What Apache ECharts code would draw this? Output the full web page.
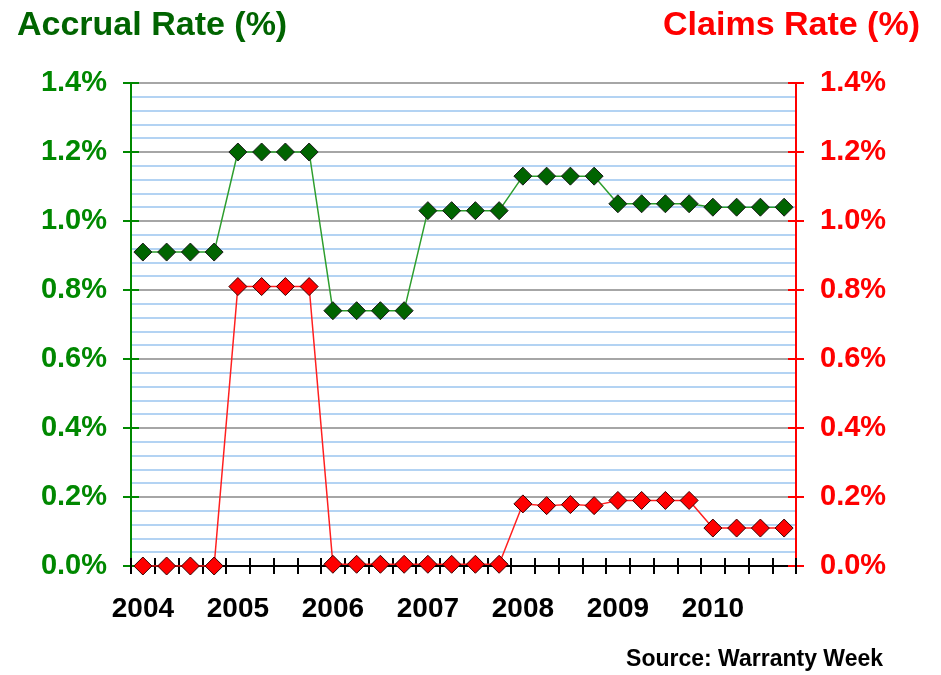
<!DOCTYPE html>
<html>
<head>
<meta charset="utf-8">
<script src="https://cdn.jsdelivr.net/npm/echarts@6/dist/echarts.min.js"></script>
<style>
  html, body { margin: 0; padding: 0; background: #fff; }
  #main { width: 941px; height: 675px; }
</style>
</head>
<body>
<div id="main"></div>
<script>
const years = ['2004', '2005', '2006', '2007', '2008', '2009', '2010'];
const quarters = ['Q1', 'Q2', 'Q3', 'Q4'];
const accrualRate = [
    0.91, 0.91, 0.91, 0.91,
    1.20, 1.20, 1.20, 1.20,
    0.74, 0.74, 0.74, 0.74,
    1.03, 1.03, 1.03, 1.03,
    1.13, 1.13, 1.13, 1.13,
    1.05, 1.05, 1.05, 1.05,
    1.04, 1.04, 1.04, 1.04
];
const claimsRate = [
    0.00, 0.00, 0.00, 0.00,
    0.81, 0.81, 0.81, 0.81,
    0.005, 0.005, 0.005, 0.005,
    0.005, 0.005, 0.005, 0.005,
    0.18, 0.175, 0.178, 0.175,
    0.19, 0.19, 0.19, 0.19,
    0.11, 0.11, 0.11, 0.11
];
const yTicks = [0, 0.2, 0.4, 0.6, 0.8, 1.0, 1.2, 1.4];

const categories = [];
years.forEach(y => quarters.forEach(q => categories.push(y + ' ' + q)));

const chart = echarts.init(document.getElementById('main'));
const FONT = '"Liberation Sans", Arial, sans-serif';
const GREEN = '#008800';
const RED = '#ff0000';

function valueAxis(position, color, withLabels, inside) {
    return {
        type: 'value',
        position: position,
        min: yTicks[0],
        max: yTicks[yTicks.length - 1],
        interval: yTicks[1] - yTicks[0],
        axisLine: { show: withLabels, lineStyle: { color: color, width: 2 } },
        axisTick: { show: true, inside: inside, length: 8, lineStyle: { color: color, width: 2 } },
        axisLabel: {
            show: withLabels,
            color: color,
            fontFamily: FONT,
            fontWeight: 'bold',
            fontSize: 29,
            margin: 24,
            formatter: v => v.toFixed(1) + '%'
        },
        splitLine: { show: false },
        minorTick: { show: false },
        minorSplitLine: { show: false }
    };
}

const leftAxis = valueAxis('left', GREEN, true, false);
leftAxis.splitLine = { show: true, lineStyle: { color: '#a6a6a6', width: 2 } };
leftAxis.minorTick = { show: false, splitNumber: 5 };
leftAxis.minorSplitLine = { show: true, lineStyle: { color: '#b3d3f3', width: 2 } };

const option = {
    backgroundColor: '#ffffff',
    animation: false,
    title: [{
        text: 'Accrual Rate (%)',
        left: 17,
        top: 9,
        padding: 0,
        textStyle: { color: '#006400', fontFamily: FONT, fontWeight: 'bold', fontSize: 34 }
    }, {
        text: 'Claims Rate (%)',
        right: 21,
        top: 9,
        padding: 0,
        textStyle: { color: RED, fontFamily: FONT, fontWeight: 'bold', fontSize: 34 }
    }],
    graphic: [{
        type: 'text',
        right: 58,
        top: 648,
        style: { text: 'Source: Warranty Week', fill: '#000', font: 'bold 23px ' + FONT }
    }],
    grid: { left: 131, right: 145, top: 83, bottom: 109 },
    xAxis: [{
        type: 'category',
        data: categories,
        boundaryGap: true,
        axisLine: { lineStyle: { color: '#000', width: 2 } },
        axisTick: { show: true, interval: 0, length: 8, lineStyle: { color: '#000', width: 2 } },
        axisLabel: {
            interval: 3,
            color: '#000',
            fontFamily: FONT,
            fontWeight: 'bold',
            fontSize: 28,
            margin: 29,
            formatter: v => v.split(' ')[0]
        },
        splitLine: { show: false }
    }, {
        type: 'category',
        data: categories,
        position: 'bottom',
        boundaryGap: true,
        axisLine: { show: false },
        axisTick: { show: true, inside: true, interval: 0, length: 8, lineStyle: { color: '#000', width: 2 } },
        axisLabel: { show: false },
        splitLine: { show: false }
    }],
    yAxis: [
        leftAxis,
        valueAxis('right', RED, true, false),
        valueAxis('left', GREEN, false, true),
        valueAxis('right', RED, false, true)
    ],
    series: [{
        name: 'Accrual Rate (%)',
        type: 'line',
        yAxisIndex: 0,
        data: accrualRate,
        symbol: 'diamond',
        symbolSize: 18,
        showAllSymbol: true,
        lineStyle: { color: '#2e9e2e', width: 1.5 },
        itemStyle: { color: '#006400', borderColor: '#1a1a1a', borderWidth: 1 }
    }, {
        name: 'Claims Rate (%)',
        type: 'line',
        yAxisIndex: 1,
        data: claimsRate,
        symbol: 'diamond',
        symbolSize: 18,
        showAllSymbol: true,
        lineStyle: { color: '#ff2020', width: 1.5 },
        itemStyle: { color: '#ff0000', borderColor: '#3a0000', borderWidth: 1 }
    }]
};

chart.setOption(option);
</script>
</body>
</html>
